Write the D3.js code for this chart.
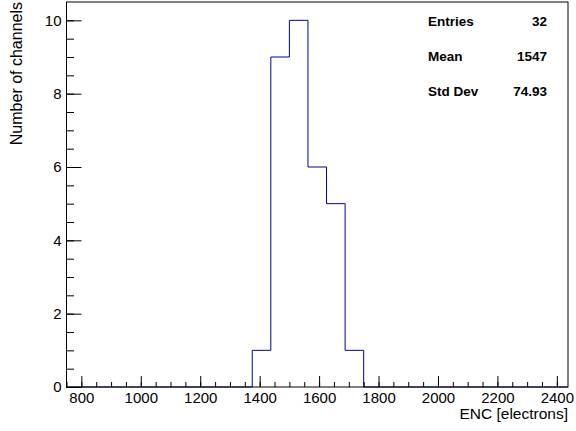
<!DOCTYPE html>
<html>
<head>
<meta charset="utf-8">
<script src="https://cdn.jsdelivr.net/npm/d3@7"></script>
<style>
  body { margin: 0; background: #fff; }
  svg text { font-family: "Liberation Sans", Arial, Helvetica, sans-serif; }
</style>
</head>
<body>
<div id="chart"></div>
<script>
// histogram bins (ENC in electrons), 27 bins of 62.5 from 750 to 2437.5
let binLow = 750, binWidth = 62.5, nBins = 27
let counts = [0, 0, 0, 0, 0, 0, 0, 0, 0, 0, 1, 9, 10, 6, 5, 1, 0, 0, 0, 0, 0, 0, 0, 0, 0, 0, 0]
let xTicks = [800, 1000, 1200, 1400, 1600, 1800, 2000, 2200, 2400]
let yTicks = [0, 2, 4, 6, 8, 10]
let statNames = ["Entries", "Mean", "Std Dev"]
let statValues = ["32", "1547", "74.93"]

let width = 576,
    height = 431
let svg = d3.select("#chart").append("svg")
    .attr("width", width)
    .attr("height", height)

let frameL = 66.5, frameR = 568, frameT = 2, frameB = 387
let xScale = d3.scaleLinear()
    .domain([binLow, binLow + nBins * binWidth])
    .range([frameL, frameR])
let yScale = d3.scaleLinear()
    .domain([0, 10.5])
    .range([frameB, frameT])

// histogram outline as a step line
let pts = []
counts.forEach(function(c, i) {
    pts.push([binLow + i * binWidth, c])
    pts.push([binLow + (i + 1) * binWidth, c])
})
let line = d3.line()
    .x(function(d) { return xScale(d[0]); })
    .y(function(d) { return yScale(d[1]); })
svg.append("path")
    .attr("d", line(pts))
    .attr("fill", "none")
    .attr("stroke", "#000099")
    .attr("stroke-width", 1)

// frame
svg.append("rect")
    .attr("x", frameL)
    .attr("y", frameT)
    .attr("width", frameR - frameL)
    .attr("height", frameB - frameT)
    .attr("fill", "none")
    .attr("stroke", "#000")
    .attr("stroke-width", 1)

// x axis
let xMinor = d3.range(750, 2437.5, 50)
svg.append("g")
    .attr("transform", "translate(0," + frameB + ")")
    .call(d3.axisBottom(xScale).tickValues(xMinor).tickSize(-5).tickFormat(""))
let xAxis = svg.append("g")
    .attr("transform", "translate(0," + frameB + ")")
    .call(d3.axisBottom(xScale).tickValues(xTicks).tickSize(-11).tickPadding(5).tickFormat(d3.format("d")))
svg.selectAll(".domain").remove()
xAxis.selectAll("text")
    .attr("font-size", "15px")
    .attr("font-family", "Liberation Sans, Arial, sans-serif")
    .attr("fill", "#000")

// y axis
let yMinor = d3.range(0, 10.5, 0.5)
svg.append("g")
    .attr("transform", "translate(" + frameL + ",0)")
    .call(d3.axisLeft(yScale).tickValues(yMinor).tickSize(-7.5).tickFormat(""))
    .select(".domain").remove()
let yAxis = svg.append("g")
    .attr("transform", "translate(" + frameL + ",0)")
    .call(d3.axisLeft(yScale).tickValues(yTicks).tickSize(-15).tickPadding(5).tickFormat(d3.format("d")))
yAxis.select(".domain").remove()
yAxis.selectAll("text")
    .attr("font-size", "15px")
    .attr("font-family", "Liberation Sans, Arial, sans-serif")
    .attr("fill", "#000")
svg.selectAll(".tick line").attr("stroke", "#000")

// axis titles
svg.append("text")
    .attr("x", frameR)
    .attr("y", 419)
    .attr("text-anchor", "end")
    .attr("font-size", "15.5px")
    .text("ENC [electrons]")
svg.append("text")
    .attr("transform", "translate(22," + frameT + ") rotate(-90)")
    .attr("text-anchor", "end")
    .attr("font-size", "16px")
    .text("Number of channels")

// stats box
let stats = svg.append("g")
stats.selectAll(".sname")
    .data(statNames)
    .enter()
    .append("text")
    .attr("x", 428)
    .attr("y", function(d, i) { return 26 + i * 35; })
    .attr("font-size", "13.5px")
    .attr("font-weight", "bold")
    .text(function(d) { return d; })
stats.selectAll(".sval")
    .data(statValues)
    .enter()
    .append("text")
    .attr("x", 547)
    .attr("y", function(d, i) { return 26 + i * 35; })
    .attr("text-anchor", "end")
    .attr("font-size", "13.5px")
    .attr("font-weight", "bold")
    .text(function(d) { return d; })
</script>
</body>
</html>
